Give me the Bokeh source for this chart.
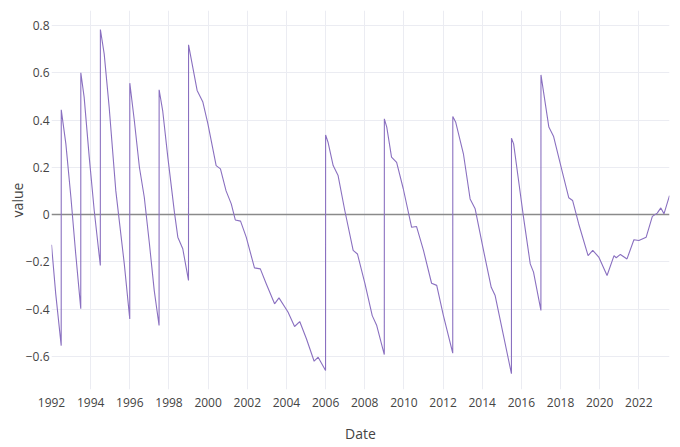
from datetime import datetime
from bokeh.plotting import figure
from bokeh.models import Range1d, FixedTicker, DatetimeTickFormatter, CustomJSTickFormatter, Span, ColumnDataSource
from bokeh.embed import file_html
from bokeh.resources import INLINE

dates = [
    "1992-01-01", "1992-03-20", "1992-06-30", "1992-07-01", "1992-09-25", "1992-12-28",
    "1993-03-28", "1993-06-30", "1993-07-01", "1993-09-01", "1993-12-05",
    "1994-03-08", "1994-06-30", "1994-07-01", "1994-09-10", "1994-12-12",
    "1995-04-15", "1995-09-20", "1995-12-31", "1996-01-01", "1996-03-25", "1996-06-28",
    "1996-09-27", "1997-01-01", "1997-04-01", "1997-06-30", "1997-07-01", "1997-09-05",
    "1997-12-10", "1998-04-12", "1998-06-15", "1998-09-15", "1998-12-31", "1999-01-01",
    "1999-06-10", "1999-09-25", "1999-12-28", "2000-05-30", "2000-08-18", "2000-12-01",
    "2001-03-08", "2001-05-22", "2001-08-28", "2001-12-12", "2002-05-15", "2002-09-01",
    "2002-12-20", "2003-05-25", "2003-08-15", "2004-01-30", "2004-06-01", "2004-09-05",
    "2005-01-08", "2005-06-01", "2005-08-15", "2005-12-31", "2006-01-01",
    "2006-02-15", "2006-05-22", "2006-08-22", "2006-12-25", "2007-05-30", "2007-08-18",
    "2008-01-05", "2008-05-20", "2008-08-12", "2008-12-31", "2009-01-01", "2009-02-15",
    "2009-05-15", "2009-08-18", "2009-12-20", "2010-05-25", "2010-08-25", "2011-01-01",
    "2011-06-01", "2011-09-05", "2012-01-08", "2012-06-30", "2012-07-01", "2012-08-25",
    "2013-01-15", "2013-05-20", "2013-08-22", "2014-01-25", "2014-06-18", "2014-08-30",
    "2015-02-01", "2015-06-30", "2015-07-01", "2015-08-10", "2015-11-10", "2016-02-10",
    "2016-06-15", "2016-08-15", "2016-12-31", "2017-01-01", "2017-05-28", "2017-08-25",
    "2018-01-28", "2018-06-03", "2018-08-15", "2018-12-05", "2019-05-30", "2019-08-25",
    "2019-12-15", "2020-05-18", "2020-09-25", "2020-11-05", "2021-01-22", "2021-05-25",
    "2021-10-01", "2022-01-01", "2022-05-18", "2022-09-10", "2022-12-10", "2023-02-15",
    "2023-04-15", "2023-07-27",
]
values = [
    -0.128, -0.336, -0.555, 0.443, 0.299, 0.073,
    -0.167, -0.399, 0.600, 0.497, 0.243,
    0.017, -0.216, 0.783, 0.680, 0.454,
    0.100, -0.209, -0.442, 0.556, 0.398, 0.200,
    0.073, -0.124, -0.322, -0.470, 0.528, 0.440,
    0.243, 0.010, -0.096, -0.145, -0.279, 0.718,
    0.525, 0.476, 0.384, 0.207, 0.193, 0.100,
    0.045, -0.023, -0.028, -0.096, -0.226, -0.230,
    -0.293, -0.378, -0.353, -0.413, -0.474, -0.453,
    -0.526, -0.621, -0.604, -0.660, 0.337,
    0.306, 0.207, 0.165, 0.017, -0.152, -0.167,
    -0.293, -0.428, -0.470, -0.593, 0.405, 0.370,
    0.243, 0.221, 0.109, -0.054, -0.051, -0.152,
    -0.291, -0.300, -0.428, -0.587, 0.415, 0.390,
    0.257, 0.066, 0.024, -0.152, -0.308, -0.343,
    -0.512, -0.674, 0.323, 0.299, 0.144, -0.011,
    -0.209, -0.244, -0.406, 0.591, 0.370, 0.330,
    0.186, 0.071, 0.059, -0.039, -0.174, -0.152,
    -0.180, -0.258, -0.174, -0.183, -0.169, -0.188,
    -0.107, -0.110, -0.096, -0.008, 0.006, 0.028,
    0.003, 0.080,
]
x_tick_years = list(range(1992, 2023, 2))
y_ticks = [-0.6, -0.4, -0.2, 0, 0.2, 0.4, 0.6, 0.8]
y_lo, y_hi = -0.7407, 0.8635

x = [datetime.strptime(d, "%Y-%m-%d") for d in dates]
src = ColumnDataSource(dict(x=x, y=values))

FONT = "Open Sans"
TXT = "#444444"
GRID = "#ebecf2"

p = figure(width=680, height=447, x_axis_type="datetime",
           output_backend="svg", toolbar_location=None,
           x_range=Range1d(x[0], x[-1]), y_range=Range1d(y_lo, y_hi),
           min_border_left=51, min_border_right=11, min_border_top=10, min_border_bottom=58)
p.outline_line_color = None
p.background_fill_color = "white"

def ms(y):
    return (datetime(y, 1, 1) - datetime(1970, 1, 1)).total_seconds() * 1000.0

p.xaxis.ticker = FixedTicker(ticks=[ms(y) for y in x_tick_years])
p.xaxis.formatter = DatetimeTickFormatter(years="%Y", months="%Y", days="%Y", hours="%Y")
p.yaxis.ticker = FixedTicker(ticks=y_ticks)
p.yaxis.formatter = CustomJSTickFormatter(code="""
if (Math.abs(tick) < 1e-9) return '0';
return tick.toFixed(1).replace('-', '\\u2212');
""")

for ax in (p.xaxis[0], p.yaxis[0]):
    ax.axis_line_color = None
    ax.major_tick_line_color = None
    ax.minor_tick_line_color = None
    ax.major_tick_out = 0
    ax.major_tick_in = 0
    ax.minor_tick_out = 0
    ax.minor_tick_in = 0
    ax.major_label_text_font = FONT
    ax.major_label_text_font_size = "12px"
    ax.major_label_text_color = TXT
    ax.axis_label_text_font = FONT
    ax.axis_label_text_font_size = "14px"
    ax.axis_label_text_color = TXT
    ax.axis_label_text_font_style = "normal"

p.xaxis.axis_label = "Date"
p.yaxis.axis_label = "value"
p.xaxis.major_label_standoff = 8
p.xaxis.axis_label_standoff = 14
p.yaxis.major_label_standoff = 2
p.yaxis.axis_label_standoff = -4

p.xgrid.grid_line_color = GRID
p.ygrid.grid_line_color = GRID
p.xgrid.grid_line_width = 1
p.ygrid.grid_line_width = 1

zero = Span(location=0, dimension="width", line_color="#8a8a8a", line_width=1.5, level="underlay")
p.add_layout(zero)

p.line("x", "y", source=src, line_color="#8a70c0", line_width=1.1)

open("out.html", "w").write(file_html(p, INLINE))
